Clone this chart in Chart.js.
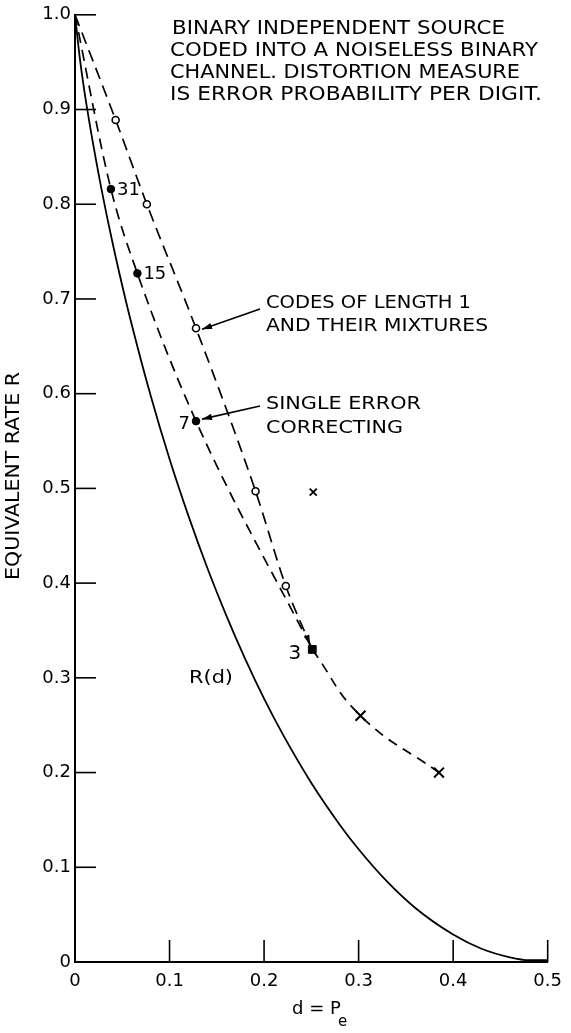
<!DOCTYPE html>
<html><head><meta charset="utf-8">
<script src="https://cdn.jsdelivr.net/npm/chart.js@4.4.1/dist/chart.umd.min.js"></script>
<style>html,body{margin:0;padding:0;background:#fff;}canvas{display:block;}</style>
</head><body>
<canvas id="c" width="571" height="1033"></canvas>
<script>
// ---- data ----
const xTicks = [0, 0.1, 0.2, 0.3, 0.4, 0.5];
const xTickLabels = ['0', '0.1', '0.2', '0.3', '0.4', '0.5'];
const yTicks = [0, 0.1, 0.2, 0.3, 0.4, 0.5, 0.6, 0.7, 0.8, 0.9, 1.0];
const yTickLabels = ['0', '0.1', '0.2', '0.3', '0.4', '0.5', '0.6', '0.7', '0.8', '0.9', '1.0'];

// R(d) solid curve
const rdD = [0, 0.005, 0.01, 0.02, 0.03, 0.04, 0.05, 0.06, 0.08, 0.10, 0.12, 0.14, 0.16, 0.18, 0.20, 0.22, 0.25, 0.28, 0.30, 0.33, 0.36, 0.40, 0.43, 0.46, 0.48, 0.50];
const rdR = [1.0, 0.955, 0.919, 0.859, 0.806, 0.758, 0.714, 0.673, 0.598, 0.531, 0.471, 0.416, 0.366, 0.320, 0.278, 0.240, 0.189, 0.145, 0.119, 0.085, 0.057, 0.029, 0.014, 0.005, 0.002, 0.002];

// single error correcting codes (n = 31, 15, 7, 3)
const secD = [0, 0.038, 0.066, 0.128, 0.251];
const secR = [1.0, 0.816, 0.727, 0.571, 0.330];
const secLabels = ['', '31', '15', '7', '3'];

// codes of length 1 and their mixtures
const mixD = [0, 0.043, 0.076, 0.128, 0.191, 0.223, 0.251];
const mixR = [1.0, 0.889, 0.800, 0.669, 0.497, 0.397, 0.330];

// continuation beyond n = 3 (x marks)
const tailD = [0.251, 0.302, 0.385];
const tailR = [0.330, 0.260, 0.200];

// isolated x mark
const loneD = [0.252];
const loneR = [0.496];

const pts = (xs, ys) => xs.map((v, i) => ({x: v, y: ys[i]}));
const FONT = '"DejaVu Sans", "Liberation Sans", sans-serif';

function fitText(ctx, text, x, y, target) {
  const w = ctx.measureText(text).width;
  const s = target ? target / w : 1;
  ctx.save(); ctx.translate(x, y); ctx.scale(s, 1); ctx.fillText(text, 0, 0); ctx.restore();
}
function arrow(ctx, x1, y1, x2, y2, L, W) {
  L = L || 10; W = W || 3.2;
  if (x1 !== null) { ctx.beginPath(); ctx.moveTo(x1, y1); ctx.lineTo(x2, y2); ctx.stroke(); }
  const a = Math.atan2(y2 - (y1 === null ? y2 : y1), x2 - (x1 === null ? x2 : x1));
  return a;
}
function head(ctx, x2, y2, a, L, W) {
  ctx.beginPath();
  ctx.moveTo(x2, y2);
  ctx.lineTo(x2 - L * Math.cos(a) + W * Math.sin(a), y2 - L * Math.sin(a) - W * Math.cos(a));
  ctx.lineTo(x2 - L * Math.cos(a) - W * Math.sin(a), y2 - L * Math.sin(a) + W * Math.cos(a));
  ctx.closePath(); ctx.fill();
}
function arrowLine(ctx, x1, y1, x2, y2) {
  ctx.beginPath(); ctx.moveTo(x1, y1); ctx.lineTo(x2, y2); ctx.stroke();
  head(ctx, x2, y2, Math.atan2(y2 - y1, x2 - x1), 10, 3.2);
}

const decor = {
  id: 'decor',
  afterDatasetsDraw(chart) {
    const {ctx, scales: {x, y}, chartArea: a} = chart;
    ctx.save();
    ctx.strokeStyle = '#000'; ctx.fillStyle = '#000'; ctx.lineWidth = 1.6;
    // inner ticks
    xTicks.forEach(v => { if (v === 0) return; const px = x.getPixelForValue(v);
      ctx.beginPath(); ctx.moveTo(px, a.bottom); ctx.lineTo(px, a.bottom - 22); ctx.stroke(); });
    yTicks.forEach(v => { if (v === 0) return; const py = y.getPixelForValue(v);
      ctx.beginPath(); ctx.moveTo(a.left, py); ctx.lineTo(a.left + 21, py); ctx.stroke(); });

    // point labels for code lengths
    const meta = chart.getDatasetMeta(1);
    ctx.font = '18px ' + FONT; ctx.textBaseline = 'middle';
    meta.data.forEach((p, i) => {
      const t = secLabels[i]; if (!t) return;
      if (t === '31' || t === '15') { ctx.textAlign = 'left'; ctx.fillText(t, p.x + 6, p.y + 1); }
      else if (t === '7') { ctx.textAlign = 'right'; ctx.fillText(t, p.x - 6, p.y + 3); }
      else { ctx.font = '20px ' + FONT; ctx.textAlign = 'right'; ctx.fillText(t, p.x - 11, p.y + 4); }
    });

    // small arrowhead where the upper curve meets point 3
    const mm = chart.getDatasetMeta(2).data;
    const p5 = mm[5], p6 = mm[6];
    const ang = Math.atan2(p6.y - p5.y, p6.x - p5.x);
    head(ctx, p6.x - 6 * Math.cos(ang), p6.y - 6 * Math.sin(ang), ang, 9, 3);

    // annotation block
    ctx.font = '19px ' + FONT; ctx.textAlign = 'left'; ctx.textBaseline = 'middle';
    fitText(ctx, 'BINARY INDEPENDENT SOURCE', 172, 29, 333);
    fitText(ctx, 'CODED INTO A NOISELESS BINARY', 170, 51, 368);
    fitText(ctx, 'CHANNEL. DISTORTION MEASURE', 170, 73, 350);
    fitText(ctx, 'IS ERROR PROBABILITY PER DIGIT.', 170, 95, 372);

    ctx.font = '18px ' + FONT;
    fitText(ctx, 'CODES OF LENGTH 1', 266, 303, 205);
    fitText(ctx, 'AND THEIR MIXTURES', 266, 326, 222);
    fitText(ctx, 'SINGLE ERROR', 266, 404, 155);
    fitText(ctx, 'CORRECTING', 266, 428, 137);
    fitText(ctx, 'R(d)', 189, 678, 44);

    // arrows to the marked points
    const mp = mm[3];
    arrowLine(ctx, 260, 309, mp.x + 6, mp.y + 1);
    const sp = meta.data[3];
    arrowLine(ctx, 260, 406, sp.x + 6, sp.y - 2);

    // axis titles
    ctx.font = '19px ' + FONT; ctx.textAlign = 'center';
    ctx.save(); ctx.translate(14, 476); ctx.rotate(-Math.PI / 2);
    fitText(ctx, 'EQUIVALENT RATE R', 0, 0, 208); ctx.restore();
    ctx.font = '18px ' + FONT; ctx.textAlign = 'left';
    ctx.fillText('d = P', 292, 1009);
    ctx.font = '15px ' + FONT;
    ctx.fillText('e', 338, 1022);
    ctx.restore();
  }
};

new Chart(document.getElementById('c'), {
  type: 'scatter',
  data: {
    datasets: [
      {data: pts(rdD, rdR), showLine: true, borderColor: '#000', borderWidth: 1.8, pointRadius: 0,
       cubicInterpolationMode: 'monotone'},
      {data: pts(secD, secR), showLine: true, borderColor: '#000', borderWidth: 1.7, borderDash: [11, 7],
       cubicInterpolationMode: 'monotone',
       pointStyle: ['circle', 'circle', 'circle', 'circle', 'rect'], pointRadius: [0, 3.8, 3.8, 3.8, 5.5],
       pointBackgroundColor: '#000', pointBorderColor: '#000', pointBorderWidth: 1},
      {data: pts(mixD, mixR), showLine: true, borderColor: '#000', borderWidth: 1.7, borderDash: [12, 7],
       cubicInterpolationMode: 'monotone',
       pointRadius: [0, 3.5, 3.5, 3.5, 3.5, 3.5, 0], pointBackgroundColor: '#fff', pointBorderColor: '#000', pointBorderWidth: 1.6},
      {data: pts(tailD, tailR), showLine: true, borderColor: '#000', borderWidth: 1.7, borderDash: [10, 7],
       tension: 0.45,
       pointStyle: 'crossRot', pointRadius: [0, 7, 7], pointBorderColor: '#000', pointBorderWidth: 2},
      {data: pts(loneD, loneR), showLine: false, pointStyle: 'crossRot', pointRadius: 5,
       pointBorderColor: '#000', pointBorderWidth: 1.8}
    ]
  },
  options: {
    responsive: false, animation: false, events: [],
    layout: {padding: {top: 13, right: 18, left: 0, bottom: 0}},
    plugins: {legend: {display: false}, tooltip: {enabled: false}},
    scales: {
      x: {type: 'linear', min: 0, max: 0.5,
        afterBuildTicks: s => { s.ticks = xTicks.map(v => ({value: v})); },
        afterFit: s => { s.height = 71; },
        grid: {display: false, drawTicks: false},
        border: {display: true, color: '#000', width: 2},
        ticks: {color: '#000', padding: 9, maxRotation: 0, autoSkip: false,
          font: {family: FONT, size: 18}, callback: (v, i) => xTickLabels[i]}},
      y: {type: 'linear', min: 0, max: 1,
        afterBuildTicks: s => { s.ticks = yTicks.map(v => ({value: v})); },
        afterFit: s => { s.width = 75; },
        grid: {display: false, drawTicks: false},
        border: {display: true, color: '#000', width: 2},
        ticks: {color: '#000', padding: 4, autoSkip: false,
          font: {family: FONT, size: 18}, callback: (v, i) => yTickLabels[i]}}
    }
  },
  plugins: [decor]
});
</script>
</body></html>
